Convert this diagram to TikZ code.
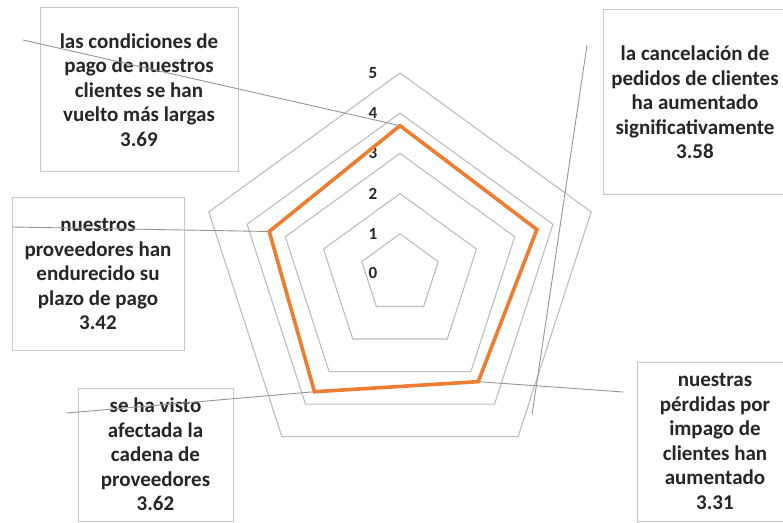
\documentclass[tikz,border=0pt]{standalone}
\usepackage{fontspec}
\setmainfont{Carlito}
\usetikzlibrary{calc}
\definecolor{chartorange}{RGB}{237,125,49}
\definecolor{gridgray}{RGB}{190,190,190}
\definecolor{boxgray}{RGB}{200,200,200}
\definecolor{leadgray}{RGB}{150,150,150}

\begin{document}
\begin{tikzpicture}[x=1pt,y=1pt]
\tikzstyle{ring}=[draw=gridgray,line width=1.1pt,line join=miter]
\tikzstyle{series}=[draw=chartorange,line width=3.6pt,line join=miter]
\tikzstyle{labelbox}=[draw=boxgray,line width=1pt,align=center,inner sep=0pt,font=\bfseries\fontsize{21}{24.5}\selectfont,text=black!85]
\tikzstyle{leader}=[draw=leadgray,line width=0.9pt]
\tikzstyle{tick}=[font=\bfseries\fontsize{17}{17}\selectfont,text=black!85,inner sep=0pt]

\useasboundingbox (0,0) rectangle (783,522);
\fill [white] (0,0) rectangle (783,522);

\coordinate (C) at (400,248);

% grid rings, value 0 is the centre
\draw [ring] ($(C)+(90:40.2)$) -- ($(C)+(18:40.2)$) -- ($(C)+(-54:40.2)$) -- ($(C)+(-126:40.2)$) -- ($(C)+(162:40.2)$) -- cycle;
\draw [ring] ($(C)+(90:80.4)$) -- ($(C)+(18:80.4)$) -- ($(C)+(-54:80.4)$) -- ($(C)+(-126:80.4)$) -- ($(C)+(162:80.4)$) -- cycle;
\draw [ring] ($(C)+(90:120.6)$) -- ($(C)+(18:120.6)$) -- ($(C)+(-54:120.6)$) -- ($(C)+(-126:120.6)$) -- ($(C)+(162:120.6)$) -- cycle;
\draw [ring] ($(C)+(90:160.8)$) -- ($(C)+(18:160.8)$) -- ($(C)+(-54:160.8)$) -- ($(C)+(-126:160.8)$) -- ($(C)+(162:160.8)$) -- cycle;
\draw [ring] ($(C)+(90:201)$) -- ($(C)+(18:201)$) -- ($(C)+(-54:201)$) -- ($(C)+(-126:201)$) -- ($(C)+(162:201)$) -- cycle;

\node (T0) at (373,249) [tick] {0};
\node (T1) at (373,288.2) [tick] {1};
\node (T2) at (373,328.4) [tick] {2};
\node (T3) at (373,368.6) [tick] {3};
\node (T4) at (373,408.8) [tick] {4};
\node (T5) at (373,449) [tick] {5};

% data points
\coordinate (D1) at ($(C)+(90:148.34)$);
\coordinate (D2) at ($(C)+(18:143.92)$);
\coordinate (D3) at ($(C)+(-54:133.06)$);
\coordinate (D4) at ($(C)+(-126:145.52)$);
\coordinate (D5) at ($(C)+(162:137.48)$);

% label boxes
\node (L1) at (139,432) [labelbox,minimum width=198pt,minimum height=164pt]
   {las condiciones de\\pago de nuestros\\clientes se han\\vuelto más largas\\3.69};
\node (L2) at (695,419.5) [labelbox,minimum width=184pt,minimum height=185pt]
   {la cancelación de\\pedidos de clientes\\ha aumentado\\significativamente\\3.58};
\node (L3) at (715,80.5) [labelbox,minimum width=156pt,minimum height=159pt]
   {nuestras\\pérdidas por\\impago de\\clientes han\\aumentado\\3.31};
\node (L4) at (155.5,67.5) [labelbox,minimum width=155pt,minimum height=133pt]
   {se ha visto\\afectada la\\cadena de\\proveedores\\3.62};
\node (L5) at (98,248) [labelbox,minimum width=172pt,minimum height=152pt]
   {nuestros\\proveedores han\\endurecido su\\plazo de pago\\3.42};

% leader lines
\coordinate (E1) at (23,482);
\coordinate (E2a) at (587,477);
\coordinate (E2b) at (532,107);
\coordinate (E3) at (623,130);
\coordinate (E4) at (67,109);
\coordinate (E5) at (12,295);
\draw [leader] (E1) -- (D1);
\draw [leader] (E2a) -- (E2b);
\draw [leader] (E3) -- (D3);
\draw [leader] (E4) -- (D4);
\draw [leader] (E5) -- (D5);

\draw [series] (D1) -- (D2) -- (D3) -- (D4) -- (D5) -- cycle;

\end{tikzpicture}
\end{document}
